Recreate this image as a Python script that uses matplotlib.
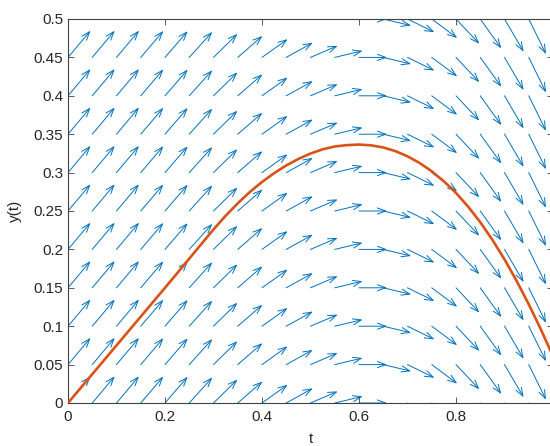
import matplotlib
matplotlib.use('Agg')
import matplotlib.pyplot as plt
from matplotlib.patches import FancyArrowPatch
import numpy as np

plt.rcParams['font.family'] = ['Liberation Sans', 'DejaVu Sans']

# direction field grid (slope depends on t only, read per column)
t_grid = [0, 0.05, 0.1, 0.15, 0.2, 0.25, 0.3, 0.35, 0.4, 0.45, 0.5,
          0.55, 0.6, 0.65, 0.7, 0.75, 0.8, 0.85, 0.9, 0.95, 1.0]
slopes = [0.75, 0.75, 0.75, 0.74, 0.73, 0.70, 0.62, 0.55, 0.45, 0.35, 0.27,
          0.15, 0.0, -0.15, -0.31, -0.47, -0.67, -0.88, -1.08, -1.28, -1.45]
y_grid = [0, 0.05, 0.1, 0.15, 0.2, 0.25, 0.3, 0.35, 0.4, 0.45, 0.5]

# solution curve
t_sol = [0, 0.05, 0.1, 0.15, 0.2, 0.25, 0.275, 0.3, 0.325, 0.35, 0.375, 0.4,
         0.425, 0.45, 0.475, 0.5, 0.525, 0.55, 0.575, 0.6, 0.625, 0.65, 0.675,
         0.7, 0.725, 0.75, 0.775, 0.8, 0.825, 0.85, 0.875, 0.9, 0.925, 0.95,
         0.975, 1.0]
y_sol = [0, 0.0375, 0.075, 0.1125, 0.150, 0.188, 0.207, 0.226, 0.2438, 0.260,
         0.2748, 0.2878, 0.2993, 0.3093, 0.3178, 0.3248, 0.3303, 0.334, 0.3358,
         0.3365, 0.3355, 0.3327, 0.328, 0.3212, 0.3125, 0.3017, 0.2887, 0.2735,
         0.2557, 0.2355, 0.2125, 0.187, 0.159, 0.1285, 0.0958, 0.0608]

x_ticks = [0, 0.2, 0.4, 0.6, 0.8, 1.0]
x_ticklabels = ['0', '0.2', '0.4', '0.6', '0.8', '']
y_ticks = [0, 0.05, 0.1, 0.15, 0.2, 0.25, 0.3, 0.35, 0.4, 0.45, 0.5]
y_ticklabels = ['0', '0.05', '0.1', '0.15', '0.2', '0.25', '0.3', '0.35', '0.4', '0.45', '0.5']

blue = '#0072BD'
orange = '#D95319'
txt = '#262626'
arrow_len = 0.058

fig = plt.figure(figsize=(5.5, 4.46), dpi=100)
ax = fig.add_axes([68/550, 43/446, 485/550, 384/446])

for t, s in zip(t_grid, slopes):
    dx = arrow_len / np.sqrt(1 + s**2)
    dy = s * dx
    for y in y_grid:
        arr = FancyArrowPatch((t, y), (t + dx, y + dy),
                              arrowstyle='->,head_length=0.6,head_width=0.22',
                              mutation_scale=10, color=blue, lw=0.7,
                              shrinkA=0, shrinkB=0)
        ax.add_patch(arr)

ax.plot(t_sol, y_sol, color=orange, lw=1.9, zorder=5)

ax.set_xlim(0, 1)
ax.set_ylim(0, 0.5)
ax.set_xticks(x_ticks)
ax.set_xticklabels(x_ticklabels)
ax.set_yticks(y_ticks)
ax.set_yticklabels(y_ticklabels)
ax.tick_params(direction='in', length=4, width=0.6, colors='#404040',
               labelcolor=txt, labelsize=11, top=True, right=True)
ax.tick_params(axis='x', pad=5)
for sp in ax.spines.values():
    sp.set_color('#404040')
    sp.set_linewidth(0.8)

ax.set_xlabel('t', fontsize=11, color=txt)
ax.set_ylabel('y(t)', fontsize=11, color=txt)
ax.xaxis.set_label_coords(0.5, -0.075)
ax.yaxis.set_label_coords(-0.095, 0.5)

fig.savefig('out.png', dpi=100)
